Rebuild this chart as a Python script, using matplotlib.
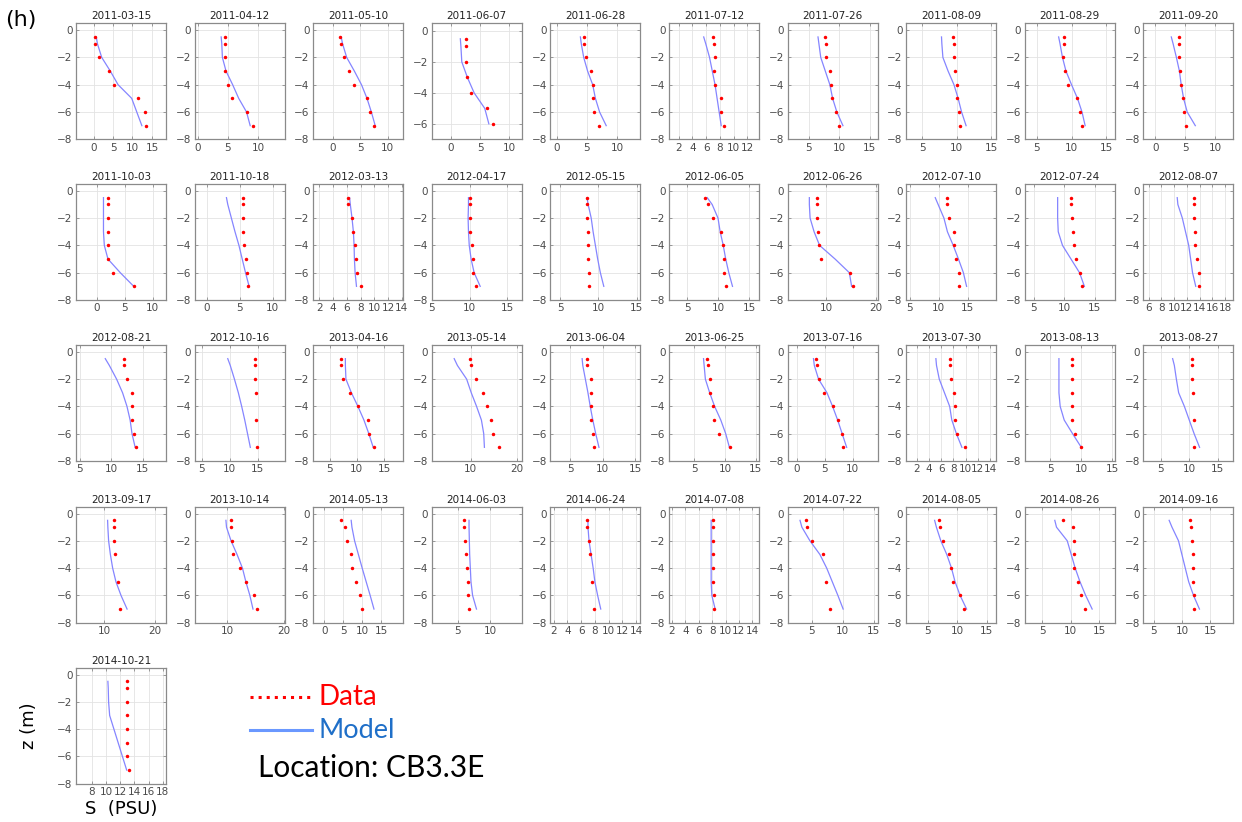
import matplotlib.pyplot as plt
import numpy as np
from matplotlib.lines import Line2D

nan = np.nan

# sampling depths (m)
depths = [-0.5, -1, -2, -3, -4, -5, -6, -7]

dates = ["2011-03-15", "2011-04-12", "2011-05-10", "2011-06-07", "2011-06-28",
         "2011-07-12", "2011-07-26", "2011-08-09", "2011-08-29", "2011-09-20",
         "2011-10-03", "2011-10-18", "2012-03-13", "2012-04-17", "2012-05-15",
         "2012-06-05", "2012-06-26", "2012-07-10", "2012-07-24", "2012-08-07",
         "2012-08-21", "2012-10-16", "2013-04-16", "2013-05-14", "2013-06-04",
         "2013-06-25", "2013-07-16", "2013-07-30", "2013-08-13", "2013-08-27",
         "2013-09-17", "2013-10-14", "2014-05-13", "2014-06-03", "2014-06-24",
         "2014-07-08", "2014-07-22", "2014-08-05", "2014-08-26", "2014-09-16",
         "2014-10-21"]

# observed salinity (PSU) at each depth
data_S = [
    [0.4, 0.35, 1.5, 3.9, 5.3, 11.5, 13.2, 13.5],
    [4.6, 4.5, 4.6, 4.6, 5.0, 5.7, 8.1, 9.2],
    [1.3, 1.45, 2.1, 2.9, 3.8, 6.2, 6.7, 7.4],
    [2.55, 2.55, 2.55, 2.7, 3.5, 6.1, 7.2, nan],
    [4.45, 4.45, 4.8, 5.7, 5.95, 6.0, 6.2, 6.95],
    [7.0, 7.1, 7.3, 7.2, 7.3, 8.1, 8.2, 8.6],
    [7.7, 7.85, 7.85, 8.45, 8.6, 8.8, 9.4, 10.0],
    [9.5, 9.6, 9.65, 9.75, 10.05, 10.1, 10.35, 10.5],
    [8.85, 8.85, 8.8, 9.1, 9.5, 10.85, 11.15, 11.45],
    [4.0, 4.0, 4.0, 4.05, 4.35, 4.65, 4.7, 5.1],
    [2.0, 2.0, 2.0, 2.0, 2.0, 2.0, 2.9, 6.6],
    [5.5, 5.5, 5.5, 5.5, 5.6, 5.85, 6.1, 6.2],
    [6.1, 6.2, 6.7, 6.95, 7.25, 7.3, 7.5, 8.0],
    [10.1, 10.1, 10.05, 10.1, 10.3, 10.45, 10.5, 10.85],
    [8.5, 8.5, 8.5, 8.6, 8.65, 8.65, 8.7, 8.75],
    [7.9, 8.4, 9.1, 10.4, 10.8, 10.95, 11.0, 11.2],
    [8.25, 8.25, 8.25, 8.45, 8.6, 8.95, 14.8, 15.45],
    [11.4, 11.5, 11.85, 12.55, 12.7, 12.9, 13.5, 13.5],
    [11.1, 11.1, 11.3, 11.4, 11.65, 11.9, 12.5, 12.9],
    [13.1, 13.1, 13.1, 13.25, 13.35, 13.55, 13.85, 13.85],
    [12.05, 12.05, 12.55, 13.25, 13.3, 13.35, 13.65, 13.9],
    [14.6, 14.6, 14.6, 14.65, nan, 14.65, nan, 14.9],
    [7.1, 7.1, 7.4, 8.8, 10.3, 12.0, 12.3, 13.2],
    [9.8, 10.05, 11.1, 12.7, 13.55, 14.35, 14.85, 16.1],
    [7.55, 7.55, 8.1, 8.1, 8.1, 8.1, 8.45, 8.7],
    [7.1, 7.25, 7.5, 7.6, 8.0, 8.25, 9.0, 10.8],
    [3.45, 3.6, 3.9, 4.9, 6.4, 7.4, 8.1, 8.3],
    [7.5, 7.45, 7.6, 8.05, 8.25, 8.2, 8.65, 9.9],
    [8.5, 8.5, 8.5, 8.5, 8.5, 8.5, 9.0, 10.0],
    [10.45, 10.45, 10.45, 10.65, nan, 10.85, nan, 10.9],
    [11.85, 11.85, 11.85, 12.05, nan, 12.65, nan, 13.2],
    [10.7, 10.7, 10.8, 11.0, 12.3, 13.4, 14.7, 15.2],
    [4.5, 5.5, 6.05, 7.0, 7.3, 8.5, 9.3, 9.9],
    [5.9, 5.9, 6.2, 6.3, 6.45, 6.6, 6.6, 6.7],
    [6.9, 6.9, 7.2, 7.3, nan, 7.55, nan, 7.8],
    [8.1, 8.1, 8.1, 8.1, 8.1, 8.1, 8.3, 8.25],
    [4.0, 4.2, 5.0, 6.8, nan, 7.25, nan, 7.9],
    [7.0, 7.1, 7.55, 8.6, 8.9, 9.25, 10.5, 11.15],
    [8.65, 10.4, 10.6, 10.6, 10.6, 11.35, 11.9, 12.5],
    [11.45, 11.6, 11.7, 11.95, 12.0, 12.05, 12.1, 12.1],
    [12.9, 12.9, 12.9, 12.9, 12.95, 13.0, 13.0, 13.2],
]

# modelled salinity (PSU) at the same depths
model_S = [
    [0.7, 1.0, 2.1, 4.3, 6.3, 9.8, 11.1, 12.4],
    [3.9, 4.0, 4.1, 4.7, 5.8, 6.8, 8.1, 8.7],
    [1.5, 1.75, 2.5, 3.9, 5.2, 6.2, 7.0, 7.7],
    [1.65, 1.75, 1.9, 2.85, 4.0, 5.8, 6.5, nan],
    [3.9, 4.05, 4.45, 5.1, 5.95, 6.4, 7.1, 8.2],
    [5.65, 5.95, 6.5, 6.9, 7.3, 7.6, 7.9, 8.2],
    [6.5, 6.65, 6.95, 7.7, 8.45, 8.9, 9.6, 10.6],
    [7.8, 7.85, 8.0, 8.75, 9.6, 10.2, 10.7, 11.35],
    [8.15, 8.35, 8.7, 9.2, 10.0, 10.85, 11.5, 11.95],
    [2.65, 2.95, 3.5, 4.0, 4.3, 4.7, 5.3, 6.65],
    [1.2, 1.2, 1.2, 1.2, 1.35, 2.0, 4.2, 6.6],
    [2.95, 3.15, 3.7, 4.25, 4.85, 5.35, 5.85, 6.4],
    [6.4, 6.5, 6.75, 6.95, 7.05, 7.1, 7.2, 7.4],
    [9.85, 9.85, 9.8, 9.85, 9.95, 10.2, 10.6, 11.4],
    [8.5, 8.65, 9.05, 9.3, 9.6, 9.9, 10.25, 10.7],
    [8.2, 9.0, 9.95, 10.3, 10.8, 11.2, 11.7, 12.3],
    [6.65, 6.65, 6.8, 7.6, 8.7, 11.8, 14.65, 15.1],
    [9.4, 9.9, 10.9, 11.5, 12.5, 13.4, 14.25, 14.8],
    [8.9, 8.9, 8.9, 9.0, 9.7, 11.1, 12.5, 13.3],
    [10.5, 10.6, 11.3, 11.8, 12.3, 12.6, 12.9, 13.4],
    [9.05, 9.7, 10.85, 11.8, 12.5, 13.0, 13.3, 13.8],
    [9.65, 10.1, 10.85, 11.55, 12.15, 12.7, 13.2, 13.7],
    [7.9, 7.9, 8.0, 9.0, 10.2, 11.3, 12.2, 13.0],
    [6.45, 7.15, 9.15, 10.15, 11.3, 12.35, 12.85, 13.0],
    [6.8, 6.9, 7.3, 7.7, 8.05, 8.45, 8.9, 9.4],
    [6.5, 6.6, 6.8, 7.5, 8.3, 9.3, 10.1, 10.7],
    [3.0, 3.15, 3.9, 5.4, 6.4, 7.3, 8.1, 8.9],
    [5.15, 5.25, 5.7, 6.55, 7.4, 7.75, 8.5, 9.4],
    [6.4, 6.4, 6.4, 6.4, 6.6, 7.25, 8.6, 10.0],
    [7.1, 7.4, 7.75, 8.15, 9.15, 10.0, 10.85, 11.8],
    [10.65, 10.7, 10.85, 11.2, 11.65, 12.3, 13.3, 14.5],
    [9.8, 9.9, 10.7, 11.75, 12.7, 13.3, 14.0, 14.55],
    [7.1, 7.3, 8.0, 9.0, 10.0, 11.05, 12.1, 13.1],
    [6.75, 6.75, 6.8, 6.85, 6.95, 7.05, 7.3, 7.9],
    [7.0, 7.0, 7.15, 7.45, 7.75, 8.0, 8.4, 8.85],
    [7.85, 7.85, 7.85, 7.85, 7.85, 7.85, 7.95, 8.45],
    [3.1, 3.4, 4.7, 6.3, 7.4, 8.3, 9.2, 10.05],
    [6.2, 6.5, 7.25, 8.25, 9.05, 9.65, 10.5, 11.6],
    [7.2, 7.5, 9.4, 10.1, 10.8, 11.65, 12.65, 13.8],
    [7.75, 8.25, 9.4, 10.0, 10.6, 11.2, 12.05, 13.1],
    [10.25, 10.3, 10.35, 10.5, 11.1, 11.7, 12.3, 12.9],
]

# x-axis limits and ticks of every panel
x_lims = [(-4.5, 18.6), (-0.5, 14.4), (-3.6, 12.8), (-3.2, 12.1), (-1.1, 13.9),
          (0.6, 13.7), (1.5, 16.3), (2.7, 15.7), (3.3, 16.2), (-2.0, 13.0),
          (-3.7, 12.35), (-1.9, 11.8), (1.1, 14.2), (5.0, 16.9), (3.7, 15.5),
          (2.0, 16.6), (2.3, 20.3), (4.4, 19.9), (3.5, 18.3), (5.2, 19.3),
          (4.4, 18.7), (3.7, 19.85), (2.0, 18.5), (1.6, 21.1), (1.9, 15.8),
          (0.9, 15.5), (-1.6, 14.4), (0.3, 15.0), (0.9, 15.4), (2.0, 17.7),
          (4.4, 22.2), (4.3, 20.1), (-2.9, 20.8), (1.0, 14.9), (1.55, 14.6),
          (1.55, 15.0), (1.1, 15.6), (1.4, 16.6), (1.9, 17.8), (3.2, 19.1),
          (5.75, 18.45)]
t5 = [0, 5, 10, 15, 20]
t5b = [0, 5, 10, 15]
t2 = [2, 4, 6, 8, 10, 12, 14, 16, 18]
t10 = [0, 10, 20]
t8 = [8, 10, 12, 14, 16, 18]
x_ticks = [t5, t5, t5, t5, t5, t2, t5, t5, t5, t5,
           t5, t5, t2, t5, t5, t5, t10, t5, t5, t2,
           t5, t5, t5, t10, t5, t5, t5, t2, t5, t5,
           t10, t10, t5b, t5, t2, t2, t5, t5, t5, t5b,
           t8]

W, H = 1242, 822
fig = plt.figure(figsize=(W / 100, H / 100), dpi=100)

col_left = 76
col_pitch = 118.6
row_top = [23.3, 184, 345, 506.7, 667.7]
ax_w, ax_h = 90, 116

line_blue = "#8585ff"

for i, date in enumerate(dates):
    r, c = divmod(i, 10)
    x0 = col_left + c * col_pitch
    y0 = row_top[r]
    ax = fig.add_axes([x0 / W, 1 - (y0 + ax_h) / H, ax_w / W, ax_h / H])
    ax.plot(model_S[i], depths, color=line_blue, lw=0.9)
    ax.plot(data_S[i], depths, ls="none", marker="o", ms=2.5, mew=0,
            color="red")
    ax.set_xticks(x_ticks[i])
    if date == "2011-06-07":
        ax.set_ylim(-7, 0.5)
        ax.set_yticks([-6, -4, -2, 0])
    else:
        ax.set_ylim(-8, 0.5)
        ax.set_yticks([-8, -6, -4, -2, 0])
    ax.set_xlim(x_lims[i])
    ax.grid(True, color="#e3e3e3", lw=0.6)
    ax.set_axisbelow(True)
    for s in ax.spines.values():
        s.set_color("#8a8a8a")
        s.set_linewidth(0.9)
    ax.tick_params(direction="in", length=2, width=0.6, color="#8a8a8a",
                   labelsize=7.5, labelcolor="#4a4a4a", pad=2.5,
                   top=True, right=True)
    ax.set_title(date, fontsize=7.5, pad=3, color="#222222")

    if i == len(dates) - 1:
        ax.set_ylabel("z (m)", fontsize=13, labelpad=14)
        ax.set_xlabel("S  (PSU)", fontsize=13, labelpad=2)

fig.text(5 / W, 1 - 20 / H, "(h)", fontsize=16, va="center", ha="left")

# legend
fig.add_artist(Line2D([250 / W, 312 / W], [1 - 697 / H] * 2, color="red",
                      ls=":", lw=2.2, transform=fig.transFigure))
fig.add_artist(Line2D([250 / W, 312 / W], [1 - 730 / H] * 2, color="#6a98ff",
                      lw=2.2, transform=fig.transFigure))
fig.text(319 / W, 1 - 697 / H, "Data", color="red", fontsize=20,
         family="Lato", va="center")
fig.text(318 / W, 1 - 730 / H, "Model", color="#1f6fc8", fontsize=19.5,
         family="Lato", va="center")
fig.text(258 / W, 1 - 768 / H, "Location: CB3.3E", color="black",
         fontsize=21.5, family="Lato", va="center")

fig.savefig("out.png", dpi=100)
